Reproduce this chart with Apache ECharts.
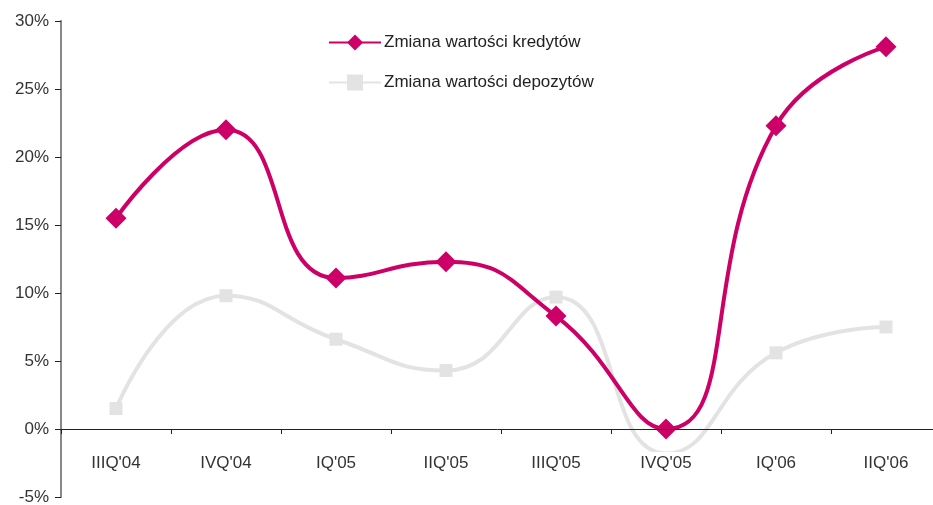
<!DOCTYPE html>
<html>
<head>
<meta charset="utf-8">
<script src="https://cdn.jsdelivr.net/npm/echarts@6/dist/echarts.min.js"></script>
<style>
    html, body { margin: 0; padding: 0; background: #fff; }
    #chart { width: 933px; height: 505px; }
</style>
</head>
<body>
<div id="chart"></div>
<script>
var categories = ["IIIQ'04", "IVQ'04", "IQ'05", "IIQ'05", "IIIQ'05", "IVQ'05", "IQ'06", "IIQ'06"];
var kredyty = [15.5, 22.0, 11.1, 12.3, 8.3, 0.0, 22.3, 28.1];
var depozyty = [1.5, 9.8, 6.6, 4.3, 9.7, -1.8, 5.6, 7.5];
var yTicks = [-5, 0, 5, 10, 15, 20, 25, 30];

var fontFamily = '"Liberation Sans", Arial, sans-serif';

// the grey marker at IVQ'05 is not drawn on the original
var depozytyData = depozyty.map(function (v, i) {
    return i === 5 ? {value: v, symbol: 'none'} : v;
});

var chart = echarts.init(document.getElementById('chart'));
var option = {
    animation: false,
    textStyle: {fontFamily: fontFamily},
    grid: {
        left: 61,
        top: 21,
        bottom: 8,
        right: -8,
        containLabel: false,
        outerBoundsMode: 'none'
    },
    legend: {
        orient: 'vertical',
        left: 323,
        top: 29,
        itemWidth: 52,
        itemHeight: 20,
        itemGap: 23,
        textStyle: {
            fontSize: 17,
            color: '#222',
            padding: [0, 0, 0, -2]
        },
        data: ['Zmiana wartości kredytów', 'Zmiana wartości depozytów']
    },
    xAxis: {
        type: 'category',
        data: categories,
        boundaryGap: true,
        z: 5,
        axisLine: {
            onZero: true,
            lineStyle: {color: '#222', width: 1}
        },
        axisTick: {
            show: true,
            inside: false,
            length: 5,
            lineStyle: {color: '#222'}
        },
        axisLabel: {
            // labels stay at the grid bottom, pull them up under the 0% line
            margin: -45,
            fontSize: 17,
            color: '#333',
            backgroundColor: '#fff',
            padding: [3, 2, 2, 2]
        }
    },
    yAxis: {
        type: 'value',
        min: -5,
        max: 30,
        interval: 5,
        splitLine: {show: false},
        axisLine: {
            show: true,
            lineStyle: {color: '#888', width: 2}
        },
        axisTick: {
            show: true,
            length: 6,
            lineStyle: {color: '#222'}
        },
        axisLabel: {
            margin: 12,
            fontSize: 17,
            color: '#333',
            formatter: function (v) {
                return yTicks.indexOf(v) >= 0 ? v + '%' : '';
            }
        }
    },
    series: [
        {
            name: 'Zmiana wartości depozytów',
            type: 'line',
            data: depozytyData,
            smooth: 0.5,
            symbol: 'rect',
            symbolSize: 13,
            z: 2,
            lineStyle: {color: '#e3e3e3', width: 4},
            itemStyle: {color: '#e3e3e3'}
        },
        {
            name: 'Zmiana wartości kredytów',
            type: 'line',
            data: kredyty,
            smooth: 0.5,
            symbol: 'diamond',
            symbolSize: 21,
            z: 3,
            lineStyle: {color: '#cc0066', width: 4},
            itemStyle: {color: '#cc0066'}
        }
    ]
};
chart.setOption(option);
</script>
</body>
</html>
